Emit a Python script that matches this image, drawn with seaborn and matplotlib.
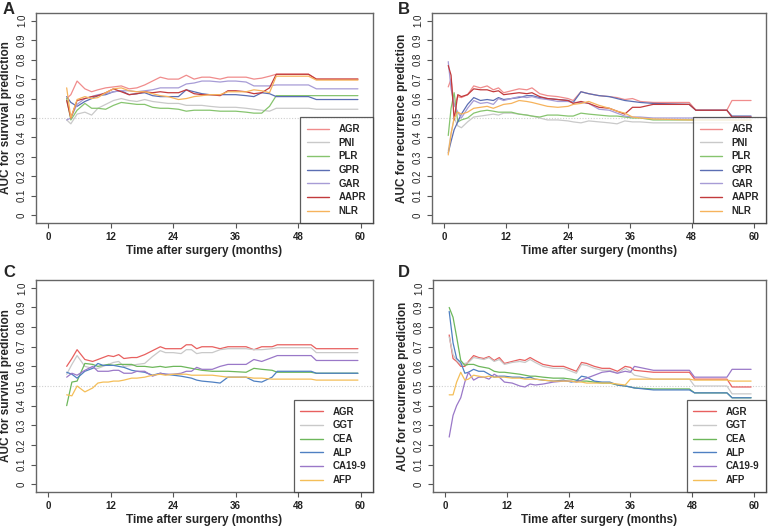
import numpy as np
import pandas as pd
import matplotlib
matplotlib.use('Agg')
import matplotlib.pyplot as plt
import seaborn as sns

# ---- data ----
time_a = [3.5, 4.3, 5.5, 7, 8.3, 9.5, 11, 12.5, 14, 15.5, 17, 18.5, 20, 21.5, 23, 25, 26.5, 28,
          29.5, 31, 33, 34.5, 36, 38, 39.5, 41, 42.5, 43.8, 50, 51.5, 59.5]
a_agr = [0.60, 0.62, 0.69, 0.65, 0.635, 0.645, 0.655, 0.66, 0.665, 0.65, 0.655, 0.67, 0.69, 0.71, 0.70, 0.70,
         0.72, 0.70, 0.71, 0.71, 0.70, 0.71, 0.71, 0.71, 0.70, 0.705, 0.715, 0.725, 0.725, 0.70, 0.70]
a_pni = [0.49, 0.47, 0.52, 0.53, 0.515, 0.55, 0.57, 0.59, 0.60, 0.59, 0.585, 0.595, 0.585, 0.58, 0.575, 0.575,
         0.565, 0.565, 0.565, 0.56, 0.555, 0.555, 0.555, 0.55, 0.545, 0.54, 0.535, 0.55, 0.55, 0.545, 0.545]
a_plr = [0.60, 0.49, 0.54, 0.575, 0.55, 0.55, 0.545, 0.565, 0.58, 0.575, 0.57, 0.57, 0.555, 0.55, 0.55, 0.545,
         0.535, 0.54, 0.54, 0.54, 0.535, 0.535, 0.535, 0.53, 0.525, 0.525, 0.56, 0.615, 0.615, 0.615, 0.615]
a_gpr = [0.61, 0.58, 0.56, 0.585, 0.60, 0.615, 0.62, 0.635, 0.64, 0.62, 0.625, 0.63, 0.615, 0.61, 0.61, 0.61,
         0.645, 0.635, 0.625, 0.62, 0.62, 0.62, 0.62, 0.615, 0.61, 0.63, 0.625, 0.61, 0.61, 0.595, 0.595]
a_gar = [0.49, 0.50, 0.57, 0.60, 0.61, 0.62, 0.625, 0.635, 0.64, 0.64, 0.635, 0.64, 0.645, 0.655, 0.655, 0.655,
         0.675, 0.68, 0.69, 0.69, 0.685, 0.69, 0.69, 0.685, 0.665, 0.665, 0.665, 0.67, 0.67, 0.65, 0.65]
a_aapr = [0.59, 0.50, 0.59, 0.60, 0.61, 0.615, 0.63, 0.65, 0.635, 0.62, 0.625, 0.635, 0.63, 0.635, 0.63, 0.63,
          0.645, 0.625, 0.62, 0.62, 0.615, 0.64, 0.64, 0.635, 0.625, 0.63, 0.655, 0.725, 0.725, 0.70, 0.70]
a_nlr = [0.655, 0.50, 0.595, 0.61, 0.60, 0.605, 0.63, 0.65, 0.655, 0.64, 0.635, 0.635, 0.625, 0.615, 0.61, 0.595,
         0.60, 0.61, 0.615, 0.62, 0.62, 0.635, 0.635, 0.635, 0.645, 0.64, 0.63, 0.715, 0.715, 0.695, 0.695]

time_b = [0.75, 1.3, 1.9, 2.6, 3.3, 4.5, 5.7, 7, 8.3, 9.5, 10.5, 11.5, 13, 14.5, 16, 17, 18.5, 20, 22, 24,
          25, 26.5, 28, 30, 32, 33.5, 35, 36.5, 38, 40.5, 47.5, 48.8, 54.8, 55.8, 59.5]
b_agr = [0.66, 0.70, 0.56, 0.61, 0.605, 0.62, 0.665, 0.655, 0.665, 0.645, 0.655, 0.63, 0.64, 0.65, 0.645, 0.655,
         0.625, 0.615, 0.61, 0.60, 0.59, 0.635, 0.625, 0.615, 0.61, 0.605, 0.595, 0.60, 0.585, 0.58, 0.58,
         0.54, 0.54, 0.59, 0.59]
b_pni = [0.33, 0.42, 0.50, 0.46, 0.45, 0.48, 0.505, 0.51, 0.515, 0.52, 0.515, 0.525, 0.525, 0.52, 0.515, 0.51,
         0.50, 0.49, 0.49, 0.485, 0.48, 0.475, 0.485, 0.48, 0.475, 0.47, 0.485, 0.48, 0.48, 0.475, 0.475,
         0.475, 0.475, 0.475, 0.475]
b_plr = [0.41, 0.55, 0.63, 0.48, 0.49, 0.50, 0.525, 0.535, 0.54, 0.535, 0.53, 0.53, 0.53, 0.52, 0.515, 0.51,
         0.505, 0.515, 0.515, 0.51, 0.51, 0.525, 0.52, 0.515, 0.51, 0.51, 0.505, 0.50, 0.50, 0.49, 0.49,
         0.49, 0.49, 0.49, 0.49]
b_gpr = [0.32, 0.38, 0.44, 0.48, 0.52, 0.57, 0.605, 0.59, 0.595, 0.59, 0.605, 0.595, 0.60, 0.605, 0.615, 0.615,
         0.605, 0.60, 0.595, 0.59, 0.58, 0.635, 0.625, 0.615, 0.61, 0.60, 0.59, 0.585, 0.58, 0.575, 0.57,
         0.54, 0.54, 0.51, 0.51]
b_gar = [0.79, 0.65, 0.57, 0.53, 0.50, 0.55, 0.59, 0.575, 0.58, 0.57, 0.60, 0.59, 0.60, 0.61, 0.605, 0.61,
         0.60, 0.595, 0.585, 0.585, 0.58, 0.58, 0.575, 0.545, 0.54, 0.525, 0.51, 0.505, 0.505, 0.50, 0.50,
         0.50, 0.50, 0.505, 0.505]
b_aapr = [0.77, 0.72, 0.49, 0.62, 0.61, 0.62, 0.65, 0.645, 0.645, 0.635, 0.64, 0.62, 0.625, 0.63, 0.625, 0.63,
          0.61, 0.60, 0.595, 0.59, 0.575, 0.585, 0.575, 0.555, 0.55, 0.535, 0.52, 0.555, 0.555, 0.57, 0.57,
          0.54, 0.54, 0.505, 0.505]
b_nlr = [0.31, 0.42, 0.50, 0.53, 0.52, 0.53, 0.55, 0.555, 0.56, 0.55, 0.56, 0.57, 0.575, 0.59, 0.585, 0.58,
         0.57, 0.56, 0.555, 0.56, 0.57, 0.575, 0.585, 0.565, 0.55, 0.535, 0.525, 0.505, 0.50, 0.495, 0.49,
         0.49, 0.49, 0.49, 0.49]

time_c = [3.5, 4.5, 5.5, 7, 8.5, 9.5, 10.5, 11.5, 12.5, 13.5, 14.5, 16, 17, 18.5, 20, 21.5, 22.5, 24,
          25.5, 26.5, 27.5, 28.5, 29.5, 31.5, 33, 34.5, 38, 39.5, 41, 43, 44, 50.5, 51.5, 59.5]
c_agr = [0.60, 0.64, 0.685, 0.635, 0.625, 0.635, 0.645, 0.655, 0.65, 0.66, 0.64, 0.645, 0.645, 0.66, 0.68, 0.70,
         0.69, 0.69, 0.69, 0.71, 0.71, 0.69, 0.70, 0.70, 0.69, 0.70, 0.70, 0.685, 0.70, 0.70, 0.71, 0.71, 0.69, 0.69]
c_ggt = [0.56, 0.61, 0.655, 0.60, 0.59, 0.59, 0.60, 0.61, 0.62, 0.625, 0.60, 0.605, 0.61, 0.615, 0.65, 0.68,
         0.67, 0.67, 0.665, 0.685, 0.685, 0.665, 0.67, 0.67, 0.685, 0.69, 0.69, 0.685, 0.685, 0.69, 0.695, 0.695,
         0.67, 0.67]
c_cea = [0.40, 0.52, 0.525, 0.615, 0.61, 0.60, 0.605, 0.61, 0.605, 0.61, 0.61, 0.61, 0.60, 0.60, 0.595, 0.60,
         0.595, 0.60, 0.60, 0.595, 0.59, 0.585, 0.58, 0.575, 0.575, 0.575, 0.57, 0.59, 0.585, 0.58, 0.57, 0.57,
         0.565, 0.565]
c_alp = [0.57, 0.56, 0.54, 0.575, 0.59, 0.615, 0.605, 0.605, 0.605, 0.60, 0.595, 0.58, 0.575, 0.57, 0.555, 0.565,
         0.56, 0.555, 0.55, 0.545, 0.54, 0.53, 0.525, 0.52, 0.515, 0.545, 0.545, 0.525, 0.52, 0.545, 0.575, 0.575,
         0.565, 0.565]
c_ca199 = [0.545, 0.565, 0.555, 0.58, 0.60, 0.575, 0.575, 0.575, 0.58, 0.58, 0.565, 0.565, 0.575, 0.575, 0.55,
           0.565, 0.56, 0.56, 0.565, 0.575, 0.575, 0.595, 0.585, 0.585, 0.60, 0.61, 0.61, 0.635, 0.625, 0.645,
           0.655, 0.655, 0.63, 0.63]
c_afp = [0.455, 0.45, 0.50, 0.47, 0.49, 0.515, 0.52, 0.52, 0.525, 0.525, 0.53, 0.54, 0.54, 0.545, 0.555, 0.56,
         0.555, 0.56, 0.56, 0.56, 0.555, 0.555, 0.555, 0.555, 0.55, 0.545, 0.545, 0.54, 0.54, 0.535, 0.535, 0.535,
         0.53, 0.53]

time_d = [0.75, 1.5, 2.2, 3, 3.8, 4.5, 5.5, 6.5, 7.5, 8.5, 9.5, 10.5, 11.5, 13, 14.5, 15.5, 16.5, 17.5, 19, 21,
          23, 24.5, 25.5, 26.5, 27.5, 29, 30.5, 32, 33.5, 35, 36, 36.8, 40.5, 47.5, 48.5, 54.8, 55.8, 59.5]
d_agr = [0.76, 0.64, 0.625, 0.60, 0.60, 0.625, 0.655, 0.645, 0.64, 0.65, 0.63, 0.645, 0.615, 0.625, 0.635, 0.63,
         0.645, 0.63, 0.61, 0.60, 0.60, 0.585, 0.575, 0.62, 0.615, 0.60, 0.59, 0.59, 0.575, 0.60, 0.595, 0.58,
         0.57, 0.57, 0.535, 0.535, 0.495, 0.495]
d_ggt = [0.75, 0.66, 0.63, 0.61, 0.615, 0.62, 0.645, 0.64, 0.635, 0.645, 0.625, 0.635, 0.61, 0.62, 0.625, 0.62,
         0.635, 0.62, 0.60, 0.59, 0.59, 0.575, 0.565, 0.61, 0.605, 0.59, 0.58, 0.58, 0.565, 0.59, 0.575, 0.555,
         0.535, 0.535, 0.50, 0.50, 0.46, 0.46]
d_cea = [0.90, 0.85, 0.75, 0.63, 0.605, 0.61, 0.61, 0.60, 0.595, 0.59, 0.575, 0.57, 0.57, 0.565, 0.56, 0.555,
         0.55, 0.55, 0.545, 0.54, 0.54, 0.535, 0.53, 0.525, 0.525, 0.52, 0.515, 0.515, 0.505, 0.50, 0.495, 0.49,
         0.485, 0.485, 0.465, 0.465, 0.44, 0.44]
d_alp = [0.88, 0.72, 0.64, 0.62, 0.565, 0.57, 0.585, 0.575, 0.575, 0.56, 0.545, 0.55, 0.55, 0.545, 0.545, 0.54,
         0.545, 0.535, 0.53, 0.525, 0.53, 0.52, 0.525, 0.55, 0.545, 0.525, 0.52, 0.52, 0.505, 0.50, 0.495, 0.49,
         0.48, 0.48, 0.465, 0.465, 0.44, 0.44]
d_ca199 = [0.24, 0.35, 0.40, 0.44, 0.52, 0.57, 0.53, 0.545, 0.545, 0.535, 0.56, 0.545, 0.52, 0.515, 0.50, 0.495,
           0.51, 0.505, 0.51, 0.52, 0.525, 0.525, 0.52, 0.53, 0.54, 0.555, 0.57, 0.575, 0.565, 0.575, 0.57, 0.60,
           0.58, 0.58, 0.545, 0.545, 0.585, 0.585]
d_afp = [0.455, 0.455, 0.52, 0.57, 0.53, 0.535, 0.555, 0.55, 0.545, 0.55, 0.545, 0.545, 0.545, 0.54, 0.54, 0.535,
         0.535, 0.535, 0.53, 0.525, 0.525, 0.525, 0.52, 0.52, 0.515, 0.515, 0.515, 0.515, 0.51, 0.505, 0.535,
         0.535, 0.535, 0.535, 0.53, 0.53, 0.525, 0.525]

names_ab = ['AGR', 'PNI', 'PLR', 'GPR', 'GAR', 'AAPR', 'NLR']
colors_ab = ['#F08C8C', '#C9C9C9', '#86C46E', '#5B6EB3', '#A79CD6', '#C23A3C', '#F6B35C']
names_cd = ['AGR', 'GGT', 'CEA', 'ALP', 'CA19-9', 'AFP']
colors_cd = ['#E8605F', '#C9C9C9', '#6DB75B', '#4F80C2', '#9A78C8', '#F4BE58']

x_ticks = [0, 12, 24, 36, 48, 60]
y_ticks = [0, 0.1, 0.2, 0.3, 0.4, 0.5, 0.6, 0.7, 0.8, 0.9, 1.0]
y_tick_labels = ['0', '0.1', '0.2', '0.3', '0.4', '0.5', '0.6', '0.7', '0.8', '0.9', '1.0']


def long_df(times, names, series):
    rows = []
    for name, vals in zip(names, series):
        for t, v in zip(times, vals):
            rows.append((t, v, name))
    return pd.DataFrame(rows, columns=['time', 'auc', 'marker'])


sns.set_style('white')
plt.rcParams['font.family'] = ['Liberation Sans', 'DejaVu Sans']

fig = plt.figure(figsize=(7.71, 5.28), dpi=100)
W, H = 771, 528

panels = [
    ('A', (36, 13, 373, 223), time_a, names_ab, [a_agr, a_pni, a_plr, a_gpr, a_gar, a_aapr, a_nlr],
     colors_ab, 'AUC for survival prediction', (3, 2)),
    ('B', (432, 13, 766, 223), time_b, names_ab, [b_agr, b_pni, b_plr, b_gpr, b_gar, b_aapr, b_nlr],
     colors_ab, 'AUC for recurrence prediction', (398, 2)),
    ('C', (36, 280, 373, 492), time_c, names_cd, [c_agr, c_ggt, c_cea, c_alp, c_ca199, c_afp],
     colors_cd, 'AUC for survival prediction', (3, 265)),
    ('D', (433, 280, 766, 492), time_d, names_cd, [d_agr, d_ggt, d_cea, d_alp, d_ca199, d_afp],
     colors_cd, 'AUC for recurrence prediction', (398, 265)),
]

for letter, box, times, names, series, cols, ylab, lpos in panels:
    x0, y0, x1, y1 = box
    ax = fig.add_axes([x0 / W, 1 - y1 / H, (x1 - x0) / W, (y1 - y0) / H])
    df = long_df(times, names, series)
    ax.axhline(0.5, color='#d0d0d0', lw=0.8, ls=(0, (1, 1.5)), zorder=1)
    sns.lineplot(data=df, x='time', y='auc', hue='marker', hue_order=names,
                 palette=dict(zip(names, cols)), linewidth=0.9, ax=ax, zorder=2)
    ax.set_xlim(-2.4, 62.4)
    ax.set_ylim(-0.04, 1.04)
    ax.set_xticks(x_ticks)
    ax.set_xticklabels([str(t) for t in x_ticks], fontsize=7, fontweight='bold')
    ax.set_yticks(y_ticks)
    ax.set_yticklabels(y_tick_labels, fontsize=7, rotation=90, va='center')
    ax.tick_params(axis='both', direction='out', length=3.5, width=0.8, color='#555555',
                   labelcolor='#222222', pad=3, left=True, bottom=True)
    ax.set_xlabel('Time after surgery (months)', fontsize=8.5, fontweight='bold', labelpad=2)
    ax.set_ylabel(ylab, fontsize=8.5, fontweight='bold')
    ax.yaxis.set_label_coords(-24 / (x1 - x0), 0.5)
    for sp in ax.spines.values():
        sp.set_color('#666666')
        sp.set_linewidth(1.0)
    handles, labels = ax.get_legend_handles_labels()
    leg = ax.legend(handles, labels, loc='lower right', frameon=True, fancybox=False,
                    borderaxespad=0, handlelength=2.3, handletextpad=1.0, labelspacing=0.38,
                    borderpad=0.7, prop={'weight': 'bold', 'size': 7})
    leg.get_frame().set_edgecolor('#333333')
    leg.get_frame().set_linewidth(0.9)
    for line in leg.get_lines():
        line.set_linewidth(1.0)
    fig.text(lpos[0] / W, 1 - lpos[1] / H, letter, fontsize=12, fontweight='bold', va='top', ha='left')

fig.savefig('out.png', dpi=100)
